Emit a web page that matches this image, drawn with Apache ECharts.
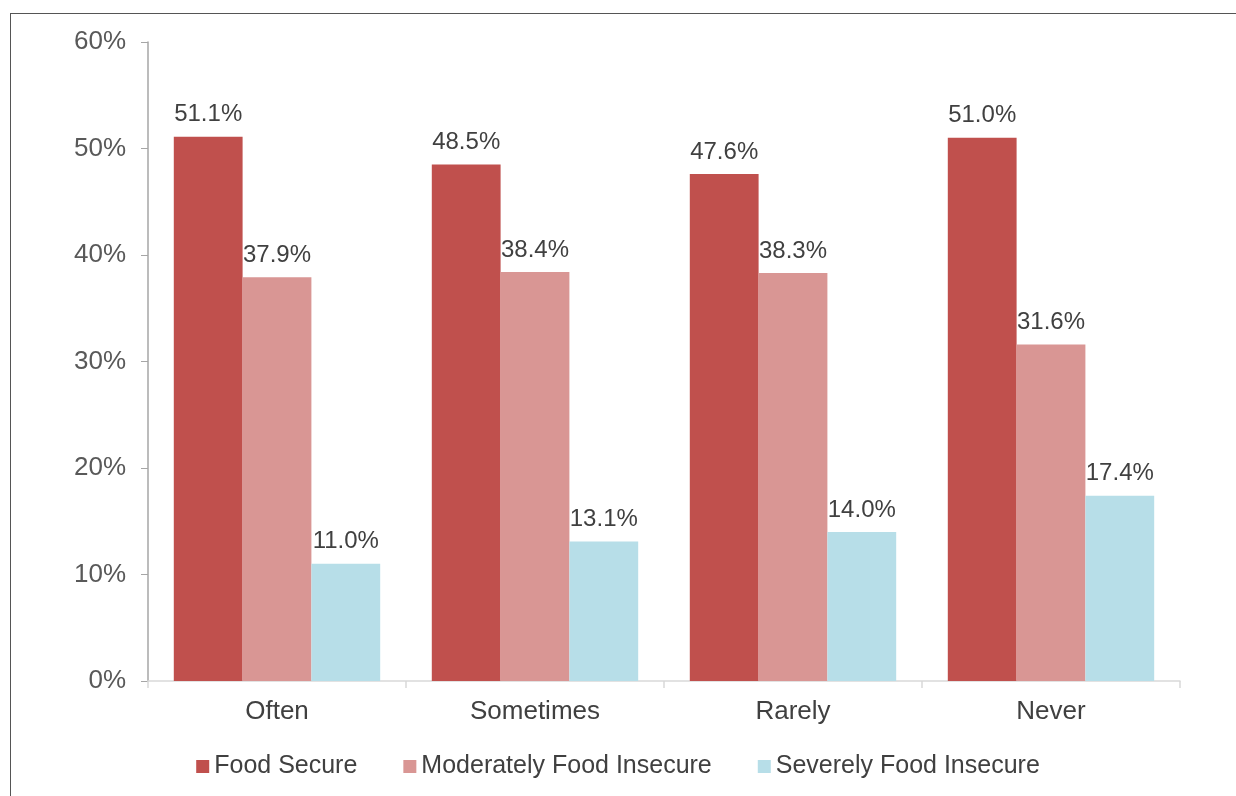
<!DOCTYPE html>
<html>
<head>
<meta charset="utf-8">
<script src="https://cdn.jsdelivr.net/npm/echarts@6/dist/echarts.min.js"></script>
<style>
html,body{margin:0;padding:0;background:#fff;}
#frame{position:absolute;left:10px;top:13px;width:1240px;height:800px;border-top:1.5px solid #555;border-left:1.5px solid #555;}
#chart{position:absolute;left:0;top:0;width:1236px;height:796px;}
</style>
</head>
<body>
<div id="frame"></div>
<div id="chart"></div>
<script>
const categories = ['Often', 'Sometimes', 'Rarely', 'Never'];
const foodSecure = [51.1, 48.5, 47.6, 51.0];
const moderatelyInsecure = [37.9, 38.4, 38.3, 31.6];
const severelyInsecure = [11.0, 13.1, 14.0, 17.4];
const seriesNames = ['Food Secure', 'Moderately Food Insecure', 'Severely Food Insecure'];
const yTicks = [0, 10, 20, 30, 40, 50, 60];

const font = 'Liberation Sans, Arial, sans-serif';
const chart = echarts.init(document.getElementById('chart'));
const label = {
  show: true, position: 'top', distance: 10,
  fontFamily: font, fontSize: 24, color: '#404040',
  formatter: p => p.value.toFixed(1) + '%'
};
chart.setOption({
  animation: false,
  grid: {left: 148, right: 56, top: 42, bottom: 115},
  legend: {
    bottom: 12, left: 'center', itemWidth: 13, itemHeight: 13, itemGap: 46,
    icon: 'rect',
    textStyle: {fontFamily: font, fontSize: 25, color: '#404040'},
    data: seriesNames
  },
  xAxis: {
    type: 'category', data: categories,
    axisLine: {lineStyle: {color: '#D9D9D9', width: 1.5}},
    axisTick: {show: true, length: 7, lineStyle: {color: '#D9D9D9', width: 1.5}},
    axisLabel: {fontFamily: font, fontSize: 26, color: '#404040', margin: 18}
  },
  yAxis: {
    type: 'value', min: yTicks[0], max: yTicks[yTicks.length - 1], interval: 10,
    axisLine: {show: true, lineStyle: {color: '#A6A6A6', width: 1.5}},
    axisTick: {show: true, length: 7, lineStyle: {color: '#A6A6A6'}},
    splitLine: {show: false},
    axisLabel: {fontFamily: font, fontSize: 26, color: '#595959', margin: 22, formatter: v => v + '%'}
  },
  series: [
    {name: seriesNames[0], type: 'bar', data: foodSecure, barGap: '0%', barCategoryGap: '20%',
     itemStyle: {color: '#C0504D'}, label: label},
    {name: seriesNames[1], type: 'bar', data: moderatelyInsecure,
     itemStyle: {color: '#D99694'}, label: label},
    {name: seriesNames[2], type: 'bar', data: severelyInsecure,
     itemStyle: {color: '#B7DEE8'}, label: label}
  ]
});
</script>
</body>
</html>
